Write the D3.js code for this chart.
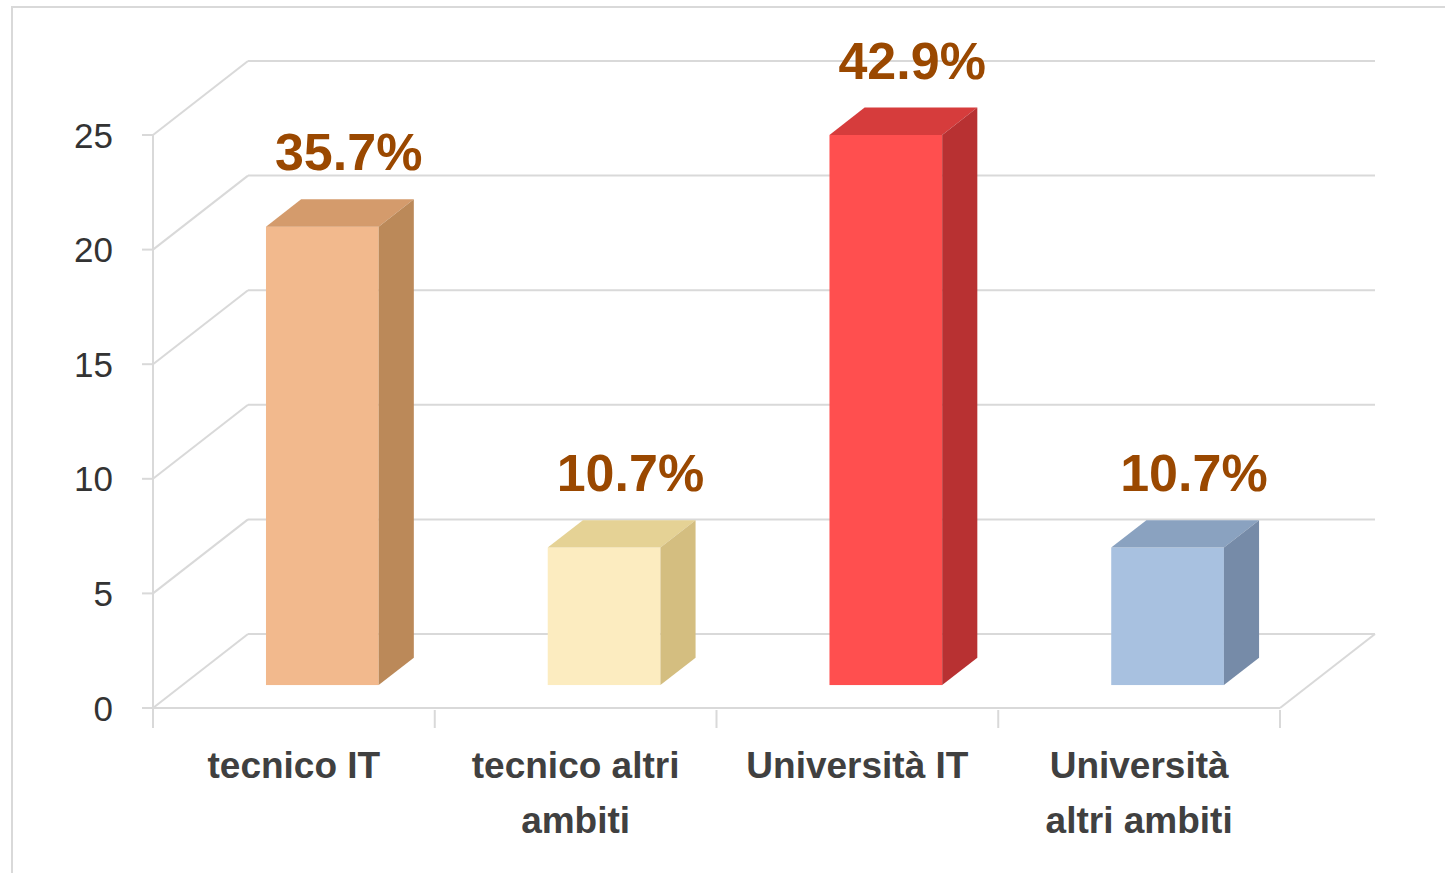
<!DOCTYPE html>
<html lang="it">
<head>
<meta charset="UTF-8" />
<title>Percorso di studi</title>
<style>
  * { margin: 0; padding: 0; }
  body { background: #fff; }
  svg { display: block; }
</style>
</head>
<body>
<svg id="chart"></svg>
<script src="https://d3js.org/d3.v7.min.js"></script>
<script>
const categories = ["tecnico IT", "tecnico altri ambiti", "Università IT", "Università altri ambiti"];
const labelLines = [["tecnico IT"], ["tecnico altri", "ambiti"], ["Università IT"], ["Università", "altri ambiti"]];
const values = [20, 6, 24, 6];
const percentLabels = ["35.7%", "10.7%", "42.9%", "10.7%"];
const yTicks = [0, 5, 10, 15, 20, 25];
const frontColors = ["#f2b98d", "#fcecc0", "#ff4f4f", "#a8c1e0"];
const topColors = ["#d49b6c", "#e5d295", "#d63c3c", "#8aa2c0"];
const sideColors = ["#bb8959", "#d4be80", "#b83132", "#768ba8"];

const width = 1445, height = 873;
const svg = d3.select("#chart").attr("width", width).attr("height", height);

// front plane of the floor/axis, depth offset to the back wall
const x0 = 153, x1 = 1280;
const depthX = 95, depthY = -74;
const barFront = 0.31, barBack = 0.68;

const x = d3.scaleBand().domain(categories).range([x0, x1]).paddingInner(0.6).paddingOuter(0.3);
const y = d3.scaleLinear().domain([0, 25]).range([708, 135]);

const grid = "#d9d9d9";

// outer frame
svg.append("rect").attr("x", 12).attr("y", 7).attr("width", 1600).attr("height", 1000)
  .attr("fill", "#fff").attr("stroke", grid).attr("stroke-width", 2);

// back wall gridlines + left wall diagonals
const walls = svg.append("g").attr("stroke", grid).attr("stroke-width", 2).attr("fill", "none");
yTicks.forEach(t => {
  walls.append("line")
    .attr("x1", x0 + depthX).attr("x2", x1 + depthX)
    .attr("y1", y(t) + depthY).attr("y2", y(t) + depthY);
  walls.append("line")
    .attr("x1", x0).attr("x2", x0 + depthX)
    .attr("y1", y(t)).attr("y2", y(t) + depthY);
});
// floor
walls.append("line").attr("x1", x0).attr("x2", x1).attr("y1", y(0)).attr("y2", y(0));
walls.append("line").attr("x1", x1).attr("x2", x1 + depthX).attr("y1", y(0)).attr("y2", y(0) + depthY);

// front axis + ticks
walls.append("line").attr("x1", x0).attr("x2", x0).attr("y1", y(25)).attr("y2", y(0) + 20);
yTicks.forEach(t => {
  walls.append("line").attr("x1", x0 - 11).attr("x2", x0).attr("y1", y(t)).attr("y2", y(t));
});
const catTicks = categories.map(c => x(c) - x.step() * x.paddingInner() / 2).concat([x1]);
catTicks.forEach(cx => {
  walls.append("line").attr("x1", cx).attr("x2", cx).attr("y1", y(0) + 2).attr("y2", y(0) + 20);
});

// bars
const bars = svg.append("g");
categories.forEach((c, i) => {
  const fx = x(c) + depthX * barFront - 1;
  const fy = depthY * barFront;
  const w = x.bandwidth();
  const dx = depthX * (barBack - barFront), dy = depthY * (barBack - barFront);
  const top = y(values[i]) + fy, bot = y(0) + fy;
  bars.append("rect").attr("x", fx).attr("y", top).attr("width", w).attr("height", bot - top)
    .attr("fill", frontColors[i]);
  bars.append("path")
    .attr("d", `M${fx},${top} L${fx + dx},${top + dy} L${fx + w + dx},${top + dy} L${fx + w},${top} Z`)
    .attr("fill", topColors[i]);
  bars.append("path")
    .attr("d", `M${fx + w},${top} L${fx + w + dx},${top + dy} L${fx + w + dx},${bot + dy} L${fx + w},${bot} Z`)
    .attr("fill", sideColors[i]);
  bars.append("text")
    .attr("x", fx + w / 2 + dx * 0.75)
    .attr("y", top + dy - 29)
    .attr("text-anchor", "middle")
    .attr("font-family", "Liberation Sans, Arial, sans-serif")
    .attr("font-weight", "bold")
    .attr("font-size", 52)
    .attr("fill", "#9a4800")
    .text(percentLabels[i]);
});

// y tick labels
svg.append("g").selectAll("text").data(yTicks).join("text")
  .attr("x", 113).attr("y", d => y(d)).attr("dy", "0.36em")
  .attr("text-anchor", "end")
  .attr("font-family", "Liberation Sans, Arial, sans-serif")
  .attr("font-size", 35)
  .attr("fill", "#333")
  .text(d => d);

// category labels
const catG = svg.append("g");
categories.forEach((c, i) => {
  const t = catG.append("text")
    .attr("x", x(c) + x.bandwidth() / 2)
    .attr("y", 778)
    .attr("text-anchor", "middle")
    .attr("font-family", "Liberation Sans, Arial, sans-serif")
    .attr("font-weight", "bold")
    .attr("font-size", 37)
    .attr("fill", "#404040");
  labelLines[i].forEach((line, k) => {
    t.append("tspan").attr("x", x(c) + x.bandwidth() / 2).attr("dy", k === 0 ? 0 : 55).text(line);
  });
});
</script>
</body>
</html>
